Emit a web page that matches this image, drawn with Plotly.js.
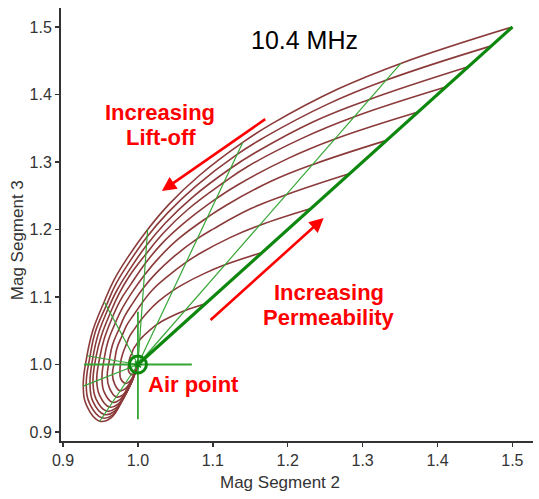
<!DOCTYPE html>
<html>
<head>
<meta charset="utf-8">
<script src="https://cdn.plot.ly/plotly-3.0.1.min.js"></script>
<style>html,body{margin:0;padding:0;background:#fff;}#chart{width:539px;height:499px;}</style>
</head>
<body>
<div id="chart"></div>
<script>
// Constant-permeability curves (lift-off varies along each), outermost first
var mu1x = [1.500,1.351,1.267,1.178,1.140,1.082,1.042,1.013,0.986,0.968,0.955,0.940,0.932,0.927,0.932,0.949,0.964,0.978,0.990,1.000];
var mu1y = [1.500,1.446,1.408,1.356,1.329,1.280,1.238,1.200,1.158,1.125,1.093,1.051,1.013,0.968,0.938,0.916,0.921,0.944,0.970,1.000];
var mu2x = [1.472,1.331,1.252,1.168,1.132,1.077,1.040,1.012,0.987,0.970,0.958,0.943,0.936,0.931,0.936,0.952,0.966,0.979,0.991,1.000];
var mu2y = [1.472,1.421,1.385,1.336,1.311,1.264,1.225,1.189,1.149,1.118,1.088,1.048,1.012,0.970,0.941,0.921,0.925,0.947,0.972,1.000];
var mu3x = [1.441,1.310,1.235,1.157,1.123,1.072,1.037,1.011,0.988,0.972,0.960,0.947,0.940,0.936,0.940,0.955,0.968,0.981,0.991,1.000];
var mu3y = [1.441,1.393,1.360,1.314,1.290,1.247,1.210,1.176,1.139,1.110,1.082,1.045,1.011,0.972,0.945,0.926,0.930,0.951,0.974,1.000];
var mu4x = [1.411,1.289,1.219,1.146,1.115,1.067,1.035,1.011,0.988,0.974,0.963,0.951,0.944,0.940,0.944,0.958,0.970,0.982,0.992,1.000];
var mu4y = [1.411,1.367,1.335,1.293,1.270,1.230,1.196,1.164,1.130,1.103,1.076,1.042,1.011,0.974,0.949,0.931,0.935,0.954,0.975,1.000];
var mu5x = [1.374,1.263,1.200,1.133,1.105,1.061,1.031,1.010,0.990,0.976,0.966,0.955,0.949,0.945,0.949,0.962,0.973,0.984,0.993,1.000];
var mu5y = [1.374,1.334,1.305,1.266,1.246,1.209,1.178,1.150,1.118,1.094,1.070,1.038,1.010,0.976,0.954,0.937,0.941,0.958,0.978,1.000];
var mu6x = [1.332,1.233,1.177,1.118,1.093,1.054,1.028,1.009,0.991,0.979,0.970,0.960,0.955,0.952,0.955,0.966,0.976,0.985,0.993,1.000];
var mu6y = [1.332,1.296,1.271,1.236,1.218,1.186,1.158,1.133,1.105,1.083,1.062,1.034,1.009,0.979,0.959,0.944,0.948,0.963,0.980,1.000];
var mu7x = [1.283,1.199,1.151,1.101,1.079,1.046,1.024,1.007,0.992,0.982,0.975,0.966,0.962,0.959,0.962,0.971,0.980,0.988,0.994,1.000];
var mu7y = [1.283,1.252,1.231,1.201,1.186,1.158,1.135,1.113,1.089,1.071,1.053,1.029,1.007,0.982,0.965,0.952,0.955,0.968,0.983,1.000];
var mu8x = [1.231,1.162,1.123,1.082,1.065,1.038,1.019,1.006,0.994,0.985,0.979,0.972,0.969,0.966,0.969,0.976,0.983,0.990,0.995,1.000];
var mu8y = [1.231,1.206,1.188,1.164,1.152,1.129,1.110,1.092,1.073,1.058,1.043,1.024,1.006,0.985,0.971,0.961,0.964,0.974,0.986,1.000];
var mu9x = [1.166,1.117,1.089,1.059,1.046,1.027,1.014,1.004,0.995,0.989,0.985,0.980,0.977,0.976,0.977,0.983,0.988,0.993,0.997,1.000];
var mu9y = [1.166,1.148,1.135,1.118,1.109,1.093,1.079,1.066,1.052,1.042,1.031,1.017,1.004,0.989,0.979,0.972,0.974,0.981,0.990,1.000];
var mu10x = [1.090,1.063,1.048,1.032,1.025,1.015,1.008,1.002,0.997,0.994,0.992,0.989,0.988,0.987,0.988,0.991,0.994,0.996,0.998,1.000];
var mu10y = [1.090,1.080,1.073,1.064,1.059,1.050,1.043,1.036,1.028,1.023,1.017,1.009,1.002,0.994,0.989,0.985,0.986,0.990,0.995,1.000];

// Zero lift-off line (increasing permeability)
var zeroLiftX = [1.000, 1.500];
var zeroLiftY = [1.000, 1.500];
// Constant lift-off lines: from the air point to the outermost curve
var liftEndX = [1.351, 1.140, 1.013, 0.955, 0.932, 0.927, 0.949];
var liftEndY = [1.446, 1.329, 1.200, 1.093, 1.013, 0.968, 0.916];
// Air point and its cross-hair
var airX = [1.000];
var airY = [1.000];
var crossHX = [0.928, 1.072];
var crossHY = [1.000, 1.000];
var crossVX = [1.000, 1.000];
var crossVY = [0.919, 1.078];
// Axis ticks
var tickVals = [0.9, 1.0, 1.1, 1.2, 1.3, 1.4, 1.5];
var tickText = ['0.9', '1.0', '1.1', '1.2', '1.3', '1.4', '1.5'];

var BROWN = '#8b3a3a', GREEN = '#35a535', DGREEN = '#0d870d', RED = '#ff0000';
var muX = [mu1x, mu2x, mu3x, mu4x, mu5x, mu6x, mu7x, mu8x, mu9x, mu10x];
var muY = [mu1y, mu2y, mu3y, mu4y, mu5y, mu6y, mu7y, mu8y, mu9y, mu10y];

var traces = [];
for (var i = 0; i < muX.length; i++) {
  traces.push({x: muX[i], y: muY[i], mode: 'lines', type: 'scatter',
    line: {color: BROWN, width: 1.6, shape: 'spline', smoothing: 1.2}, hoverinfo: 'skip'});
}
for (var j = 0; j < liftEndX.length; j++) {
  traces.push({x: [airX[0], liftEndX[j]], y: [airY[0], liftEndY[j]], mode: 'lines', type: 'scatter',
    line: {color: GREEN, width: 1.2}, hoverinfo: 'skip'});
}
traces.push({x: zeroLiftX, y: zeroLiftY, mode: 'lines', type: 'scatter', line: {color: DGREEN, width: 3.2}, hoverinfo: 'skip'});
traces.push({x: crossHX, y: crossHY, mode: 'lines', type: 'scatter', line: {color: GREEN, width: 1.8}, hoverinfo: 'skip'});
traces.push({x: crossVX, y: crossVY, mode: 'lines', type: 'scatter', line: {color: GREEN, width: 1.8}, hoverinfo: 'skip'});
traces.push({x: airX, y: airY, mode: 'markers', type: 'scatter',
  marker: {symbol: 'circle-open', size: 17, color: DGREEN, line: {color: DGREEN, width: 3}}, hoverinfo: 'skip'});
traces.push({x: airX, y: airY, mode: 'markers', type: 'scatter',
  marker: {symbol: 'asterisk-open', size: 7, color: DGREEN, line: {color: DGREEN, width: 1.5}}, hoverinfo: 'skip'});

var F = 'Liberation Sans, Arial, sans-serif';
function lbl(t, x, y, size, color) {
  return {text: t, x: x, y: y, xref: 'x', yref: 'y', showarrow: false, xanchor: 'center', yanchor: 'middle',
    font: {family: F, size: size, color: color}};
}
function arrow(x, y, ax, ay) {
  return {x: x, y: y, ax: ax, ay: ay, xref: 'x', yref: 'y', axref: 'x', ayref: 'y', text: '', showarrow: true,
    arrowhead: 2, arrowsize: 1.1, arrowwidth: 2.6, arrowcolor: RED};
}

var layout = {
  width: 539, height: 499,
  margin: {l: 61, r: 6, t: 8, b: 58},
  paper_bgcolor: '#ffffff', plot_bgcolor: '#ffffff',
  showlegend: false,
  xaxis: {range: [0.8973, 1.5275], tickvals: tickVals, ticktext: tickText, showgrid: false, zeroline: false,
    showline: true, linecolor: '#333', linewidth: 2, ticks: 'outside', ticklen: 4, tickwidth: 1.5, tickcolor: '#333',
    tickfont: {family: F, size: 16, color: '#333'}},
  yaxis: {range: [0.8867, 1.5281], tickvals: tickVals, ticktext: tickText, showgrid: false, zeroline: false,
    showline: true, linecolor: '#333', linewidth: 2, ticks: 'outside', ticklen: 4, tickwidth: 1.5, tickcolor: '#333',
    tickfont: {family: F, size: 16, color: '#333'}},
  annotations: [
    lbl('10.4 MHz', 1.222, 1.481, 25, '#000'),
    lbl('<b>Increasing</b>', 1.0295, 1.374, 22, RED),
    lbl('<b>Lift-off</b>', 1.031, 1.337, 22, RED),
    lbl('<b>Increasing</b>', 1.255, 1.107, 22, RED),
    lbl('<b>Permeability</b>', 1.255, 1.069, 22, RED),
    lbl('<b>Air point</b>', 1.0736, 0.970, 22, RED),
    arrow(1.032, 1.257, 1.172, 1.365),
    arrow(1.248, 1.217, 1.095, 1.064),
    {text: 'Mag Segment 2', x: 0.464, y: -0.095, xref: 'paper', yref: 'paper', showarrow: false,
      xanchor: 'center', yanchor: 'middle', font: {family: F, size: 17, color: '#333'}},
    {text: 'Mag Segment 3', x: -0.093, y: 0.464, xref: 'paper', yref: 'paper', showarrow: false, textangle: -90,
      xanchor: 'center', yanchor: 'middle', font: {family: F, size: 17, color: '#333'}}
  ]
};

Plotly.newPlot('chart', traces, layout, {staticPlot: true, displayModeBar: false});
</script>
</body>
</html>
